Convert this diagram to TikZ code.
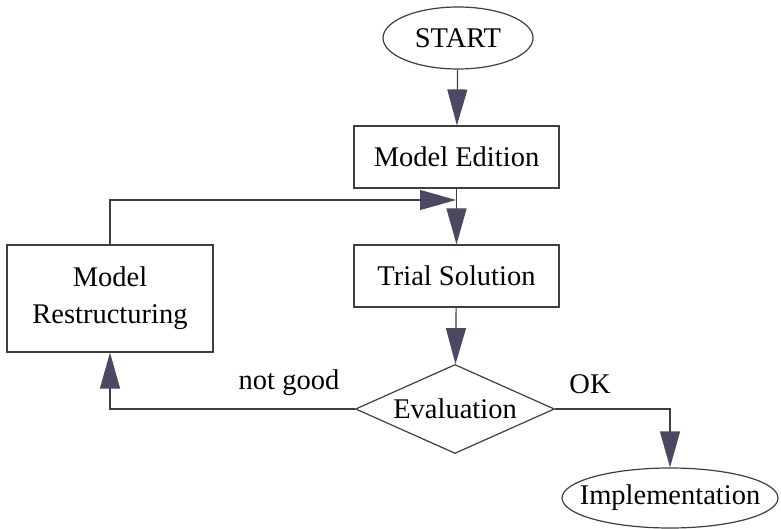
\documentclass[tikz,border=0pt]{standalone}
\usepackage{fontspec}
\setmainfont{Liberation Serif}
\usepackage{tikz}
\usetikzlibrary{arrows.meta,shapes.geometric}
\definecolor{edge}{RGB}{62,62,62}
\definecolor{tip}{RGB}{76,72,98}
\newcommand{\flowfont}{\fontsize{28.5}{37}\selectfont}

\begin{document}
\begin{tikzpicture}[x=1pt,y=-1pt,
    box/.style={draw=edge,line width=1.2pt,rectangle,inner sep=0pt,font=\flowfont,align=center},
    oval/.style={draw=edge,line width=1.2pt,ellipse,inner sep=0pt,font=\flowfont},
    test/.style={draw=edge,line width=1.2pt,diamond,inner sep=0pt,aspect=2.24,font=\flowfont},
    flow/.style={draw=edge,line width=1.2pt,-{Triangle[length=36pt,width=20pt,color=tip]}},
    lbl/.style={font=\flowfont,inner sep=0pt}]
\useasboundingbox (0,0) rectangle (781,529);
% nodes
\node[oval,minimum width=150pt,minimum height=62pt] (start) at (458,38) {START};
\node[box,minimum width=205pt,minimum height=62pt] (edit) at (456.5,157) {Model Edition};
\node[box,minimum width=205pt,minimum height=62pt] (trial) at (456.5,276) {Trial Solution};
\node[test,minimum width=199pt,minimum height=89pt] (eval) at (455,409) {Evaluation};
\node[box,minimum width=206pt,minimum height=107pt] (restr) at (110,298.5) {Model\\Restructuring};
\node[oval,inner xsep=-20pt,minimum width=216pt,minimum height=60pt] (impl) at (670,498) {Implementation};
\coordinate (join) at (456,200);
% connectors
\draw[flow] (start) -- (edit);
\draw[flow] (edit) -- (trial);
\draw[flow] (trial) -- (eval);
\draw[flow] (restr.north) |- (join);
\draw[flow] (eval.west) -| (restr.south);
\draw[flow] (eval.east) -| (impl.north);
% labels
\node[lbl] (bad) at (289,383) {not good};
\node[lbl] (ok) at (590,384) {OK};
\end{tikzpicture}
\end{document}
